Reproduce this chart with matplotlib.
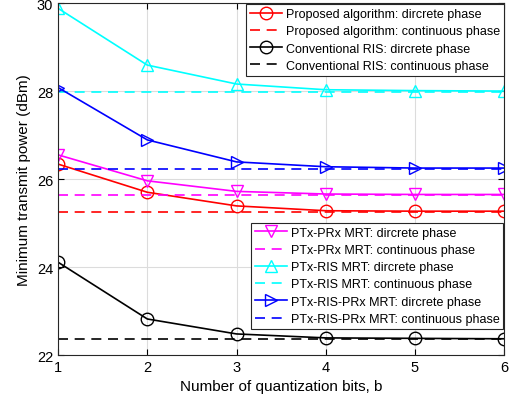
import matplotlib.pyplot as plt
import numpy as np

plt.rcParams['font.family'] = ['Liberation Sans', 'DejaVu Sans']

bits = [1, 2, 3, 4, 5, 6]

prop_disc = [26.34, 25.70, 25.39, 25.28, 25.27, 25.27]
prop_cont = 25.26
conv_disc = [24.11, 22.82, 22.48, 22.39, 22.38, 22.37]
conv_cont = 22.36
ptx_prx_disc = [26.55, 25.96, 25.72, 25.66, 25.65, 25.65]
ptx_prx_cont = 25.64
ptx_ris_disc = [29.88, 28.59, 28.16, 28.03, 28.01, 28.00]
ptx_ris_cont = 27.99
ptx_ris_prx_disc = [28.08, 26.89, 26.39, 26.28, 26.25, 26.25]
ptx_ris_prx_cont = 26.23

fig = plt.figure(figsize=(5.14, 4.06), dpi=100)
ax = fig.add_axes([0.113, 0.123, 0.868, 0.867])

ms = 9
lw = 1.2
def disc(y, c, m, label):
    return ax.plot(bits, y, color=c, marker=m, ms=ms, mfc='none', mew=1.0, lw=lw, label=label)[0]

def cont(y, c, label):
    return ax.plot(bits, [y] * len(bits), color=c, ls=(0, (6, 4)), lw=lw, label=label)[0]

h1 = disc(prop_disc, 'red', 'o', 'Proposed algorithm: dircrete phase')
h2 = cont(prop_cont, 'red', 'Proposed algorithm: continuous phase')
h3 = disc(conv_disc, 'black', 'o', 'Conventional RIS: dircrete phase')
h4 = cont(conv_cont, 'black', 'Conventional RIS: continuous phase')
h5 = disc(ptx_prx_disc, 'magenta', 'v', 'PTx-PRx MRT: dircrete phase')
h6 = cont(ptx_prx_cont, 'magenta', 'PTx-PRx MRT: continuous phase')
h7 = disc(ptx_ris_disc, 'cyan', '^', 'PTx-RIS MRT: dircrete phase')
h8 = cont(ptx_ris_cont, 'cyan', 'PTx-RIS MRT: continuous phase')
h9 = disc(ptx_ris_prx_disc, 'blue', '>', 'PTx-RIS-PRx MRT: dircrete phase')
h10 = cont(ptx_ris_prx_cont, 'blue', 'PTx-RIS-PRx MRT: continuous phase')

ax.set_xlim(1, 6)
ax.set_ylim(22, 30)
ax.set_xticks(bits)
ax.set_yticks([22, 24, 26, 28, 30])
ax.grid(True, color='#dcdcdc', lw=0.8)
ax.set_axisbelow(True)
ax.tick_params(direction='in', top=True, right=True, labelsize=10.5, length=4)
for s in ax.spines.values():
    s.set_color('#262626')
    s.set_linewidth(0.8)
ax.set_xlabel('Number of quantization bits, b', fontsize=11)
ax.set_ylabel('Minimum transmit power (dBm)', fontsize=11)

leg_kw = dict(fontsize=9, handlelength=2.6, handletextpad=0.3, borderpad=0.3,
              labelspacing=0.42, fancybox=False, framealpha=1)
leg1 = ax.legend(handles=[h1, h2, h3, h4], loc='upper right',
                 bbox_to_anchor=(1.002, 1.0), borderaxespad=0.1, **leg_kw)
leg1.get_frame().set_edgecolor('#262626')
leg1.get_frame().set_linewidth(0.8)
ax.add_artist(leg1)
leg2 = ax.legend(handles=[h5, h6, h7, h8, h9, h10], loc='lower right',
                 bbox_to_anchor=(0.998, 0.075), borderaxespad=0.0, **leg_kw)
leg2.get_frame().set_edgecolor('#262626')
leg2.get_frame().set_linewidth(0.8)

fig.savefig('out.png', dpi=100)
